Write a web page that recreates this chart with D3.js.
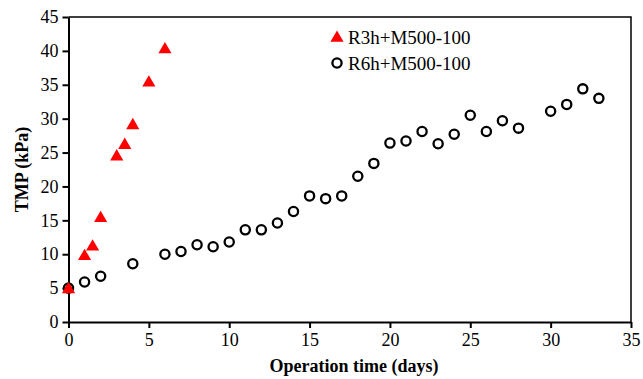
<!DOCTYPE html>
<html>
<head>
<meta charset="utf-8">
<script src="https://cdn.jsdelivr.net/npm/d3@7"></script>
<style>
	body{margin:0;background:#fff;}
	svg{display:block;}
	.axis path,.axis line{stroke:#000;stroke-width:2;}
</style>
</head>
<body>
<svg id="chart"></svg>
<script>
/*data*/
const r3h_days = [0, 1, 1.5, 2, 3, 3.5, 4, 5, 6]
const r3h_tmp = [4.8, 9.7, 11.1, 15.3, 24.4, 26.1, 29.0, 35.3, 40.2]

const r6h_days = [0, 1, 2, 4, 6, 7, 8, 9, 10, 11, 12, 13, 14, 15, 16, 17, 18, 19, 20, 21, 22, 23, 24, 25, 26, 27, 28, 30, 31, 32, 33]
const r6h_tmp = [5.0, 5.9, 6.75, 8.6, 10.0, 10.4, 11.4, 11.1, 11.8, 13.6, 13.6, 14.6, 16.3, 18.6, 18.2, 18.6, 21.5, 23.4, 26.4, 26.7, 28.1, 26.3, 27.7, 30.5, 28.1, 29.7, 28.6, 31.1, 32.1, 34.4, 33.0]

const x_ticks = [0, 5, 10, 15, 20, 25, 30, 35]
const y_ticks = [0, 5, 10, 15, 20, 25, 30, 35, 40, 45]

const series_names = ['R3h+M500-100', 'R6h+M500-100']

const serif = 'Liberation Serif, Times New Roman, serif'

const margin = {top: 17, right: 12, bottom: 57, left: 68.5}
const W = 643, H = 379
const width = W - margin.left - margin.right
const height = H - margin.top - margin.bottom

const svg = d3.select('#chart')
	.attr('width', W)
	.attr('height', H)
	.attr('font-family', serif)

const chart = svg.append('g')
	.attr('transform', `translate(${margin.left},${margin.top})`)

const xScale = d3.scaleLinear().domain([0, 35]).range([0, width])
const yScale = d3.scaleLinear().domain([0, 45]).range([height, 0])

//frame (top + right)
chart.append('path')
	.attr('d', `M0,0H${width}V${height}`)
	.attr('fill', 'none')
	.attr('stroke', '#000')
	.attr('stroke-width', 1.5)

const axisX = chart.append('g')
	.classed('axis', true)
	.attr('transform', `translate(0,${height})`)
	.call(d3.axisBottom(xScale).tickValues(x_ticks).tickSize(6).tickPadding(5).tickSizeOuter(0))

const axisY = chart.append('g')
	.classed('axis', true)
	.call(d3.axisLeft(yScale).tickValues(y_ticks).tickSize(6).tickPadding(4).tickSizeOuter(0))

for (const ax of [axisX, axisY]) {
	ax.attr('font-family', serif).attr('font-size', 18)
	ax.selectAll('text').attr('fill', '#000')
	ax.select('.domain').attr('stroke-width', 2.5)
}

//circles first, triangles on top
const r6 = r6h_days.map((d, i) => ({x: d, y: r6h_tmp[i]}))
const r3 = r3h_days.map((d, i) => ({x: d, y: r3h_tmp[i]}))

chart.selectAll('.r6')
	.data(r6)
	.enter()
	.append('circle')
	.classed('r6', true)
	.attr('cx', d => xScale(d.x))
	.attr('cy', d => yScale(d.y))
	.attr('r', 4.6)
	.attr('fill', 'none')
	.attr('stroke', '#000')
	.attr('stroke-width', 2.3)

const tri = d3.symbol().type(d3.symbolTriangle).size(75)

chart.selectAll('.r3')
	.data(r3)
	.enter()
	.append('path')
	.classed('r3', true)
	.attr('d', tri)
	.attr('transform', d => `translate(${xScale(d.x)},${yScale(d.y)})`)
	.attr('fill', '#f00')

//red dot inside first circle
chart.append('circle')
	.attr('cx', xScale(r6[0].x))
	.attr('cy', yScale(r6[0].y))
	.attr('r', 3.4)
	.attr('fill', '#f00')

//legend
const legend = svg.append('g').attr('transform', 'translate(337,0)')
legend.append('path')
	.attr('d', tri)
	.attr('transform', 'translate(0,38)')
	.attr('fill', '#f00')
legend.append('circle')
	.attr('cx', 0).attr('cy', 63)
	.attr('r', 4.6)
	.attr('fill', 'none')
	.attr('stroke', '#000')
	.attr('stroke-width', 2.3)
legend.selectAll('.lt')
	.data(series_names)
	.enter()
	.append('text')
	.attr('x', 11)
	.attr('y', (d, i) => 44 + i * 25.5)
	.attr('font-size', 19)
	.text(d => d)

//axis titles
svg.append('text')
	.attr('x', 354)
	.attr('y', 372)
	.attr('text-anchor', 'middle')
	.attr('font-size', 18)
	.attr('font-weight', 'bold')
	.text('Operation time (days)')

svg.append('text')
	.attr('transform', `translate(28,${margin.top + height / 2}) rotate(-90)`)
	.attr('text-anchor', 'middle')
	.attr('font-size', 18)
	.attr('font-weight', 'bold')
	.text('TMP (kPa)')
</script>
</body>
</html>
